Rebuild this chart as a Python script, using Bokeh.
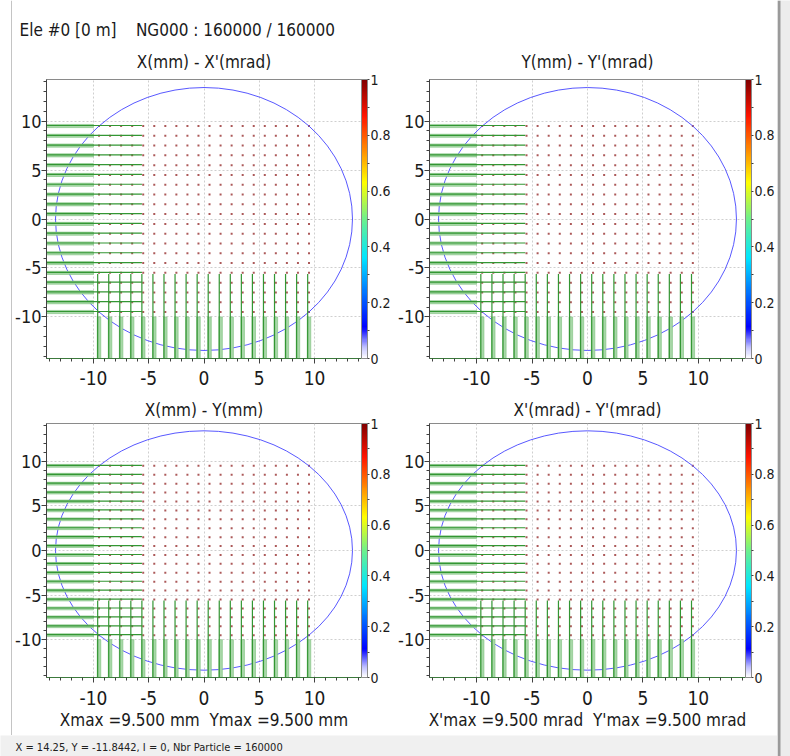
import numpy as np
from bokeh.plotting import figure
from bokeh.models import (ColorBar, LinearColorMapper, Title, NumeralTickFormatter,
                          FixedTicker, Range1d, ColumnDataSource, Label, Span)
from bokeh.layouts import column, row
from bokeh.embed import file_html
from bokeh.resources import INLINE
from bokeh.transform import dodge, linear_cmap

FONT = "DejaVu Sans Condensed, Liberation Sans, sans-serif"

# ---------------- data ----------------
grid_values = [-9.5, -8.5, -7.5, -6.5, -5.5, -4.5, -3.5, -2.5, -1.5, -0.5,
               0.5, 1.5, 2.5, 3.5, 4.5, 5.5, 6.5, 7.5, 8.5, 9.5]
profile_counts = [8000, 8000, 8000, 8000, 8000, 8000, 8000, 8000, 8000, 8000,
                  8000, 8000, 8000, 8000, 8000, 8000, 8000, 8000, 8000, 8000]
cell_density = 1.0
axis_half_range = 14.25
ellipse_center = [0.0, 0.0]
ellipse_half_axes = [13.435, 13.435]
axis_ticks = [-10, -5, 0, 5, 10]
colorbar_ticks = [0, 0.2, 0.4, 0.6, 0.8, 1.0]
colorbar_minor = [0.1, 0.3, 0.5, 0.7, 0.9]
panel_titles = ["X(mm) - X'(mrad)", "Y(mm) - Y'(mrad)", "X(mm) - Y(mm)", "X'(mrad) - Y'(mrad)"]
header_text = "Ele #0 [0 m]\u00a0\u00a0\u00a0\u00a0NG000 : 160000 / 160000"
footer_texts = ["Xmax =9.500 mm\u00a0\u00a0Ymax =9.500 mm", "X'max =9.500 mrad\u00a0\u00a0Y'max =9.500 mrad"]
status_text = "X = 14.25, Y = -11.8442, I = 0, Nbr Particle = 160000"

# fill / line profile scale (fraction of the full axis span at max count)
FILL_FRAC = 0.149
LINE_FRAC = 0.303

# ---------------- palette (jet with white at zero) ----------------
anchors = [(0.0, (255, 255, 255)), (0.04, (190, 190, 255)), (0.11, (0, 0, 255)),
           (0.36, (0, 230, 255)), (0.5, (110, 240, 140)), (0.63, (255, 255, 0)),
           (0.87, (255, 20, 0)), (1.0, (128, 0, 0))]
palette = []
for i in range(256):
    t = i / 255
    for (t0, c0), (t1, c1) in zip(anchors[:-1], anchors[1:]):
        if t0 <= t <= t1:
            f = (t - t0) / (t1 - t0)
            c = [int(round(a + (b - a) * f)) for a, b in zip(c0, c1)]
            palette.append("#%02x%02x%02x" % tuple(c))
            break

R = axis_half_range
span = 2 * R
FW = 316
TXT = "#1a1a1a"

gx, gy = np.meshgrid(grid_values, grid_values)
points = ColumnDataSource(dict(x=gx.ravel(), y=gy.ravel(),
                               d=np.full(gx.size, cell_density)))
cmax = max(profile_counts)
prof = ColumnDataSource(dict(
    v=grid_values,
    fill_end=[-R + FILL_FRAC * span * c / cmax for c in profile_counts],
    line_end=[-R + LINE_FRAC * span * c / cmax for c in profile_counts],
    edge=[-R] * len(grid_values),
    lo=[v - 0.16 for v in grid_values],
    hi=[v + 0.16 for v in grid_values],
))


def make_panel(title, frame_h, bl, br, bt, bb, title_standoff, xlab_standoff,
               header=None, footer=None):
    p = figure(width=bl + FW + br, height=bt + frame_h + bb,
               x_range=Range1d(-R, R), y_range=Range1d(-R, R),
               min_border_left=bl, min_border_right=br,
               min_border_top=bt, min_border_bottom=bb,
               output_backend="svg", toolbar_location=None, title=None)
    p.background_fill_color = "white"
    p.border_fill_color = "white"
    p.outline_line_color = "#8a8a8a"

    mapper = LinearColorMapper(palette=palette, low=0, high=1)
    # particles
    p.scatter("x", "y", source=points, marker="square", size=2.0,
              fill_color=linear_cmap("d", palette, 0, 1), line_color=None, fill_alpha=0.65)
    # ellipse
    p.ellipse(x=[ellipse_center[0]], y=[ellipse_center[1]],
              width=[2 * ellipse_half_axes[0]], height=[2 * ellipse_half_axes[1]],
              fill_color=None, line_color="#4646ff", line_width=1.0, line_alpha=0.9)
    # profiles: left (horizontal bars)
    p.quad(left="edge", right="fill_end", bottom="lo", top="hi", source=prof,
           fill_color="#a8d8a8", line_color="#7cc07c", line_width=0.6)
    p.segment(x0="edge", y0=dodge("v", 0.05, range=p.y_range), x1="line_end",
              y1=dodge("v", 0.05, range=p.y_range), source=prof,
              line_color="#339633", line_width=1.2)
    # profiles: bottom (vertical bars)
    p.quad(left="lo", right="hi", bottom="edge", top="fill_end", source=prof,
           fill_color="#a8d8a8", line_color="#7cc07c", line_width=0.6)
    p.segment(x0=dodge("v", -0.12, range=p.x_range), y0="edge",
              x1=dodge("v", -0.12, range=p.x_range), y1="line_end", source=prof,
              line_color="#339633", line_width=1.2)

    for ax in (p.xaxis[0], p.yaxis[0]):
        ax.ticker = FixedTicker(ticks=axis_ticks, minor_ticks=list(np.arange(-14, 15)))
        ax.formatter = NumeralTickFormatter(format="0")
        ax.axis_line_color = "#404040"
        ax.major_tick_line_color = "#404040"
        ax.minor_tick_line_color = "#404040"
        ax.major_tick_out = 5
        ax.major_tick_in = 0
        ax.minor_tick_out = 3
        ax.minor_tick_in = 0
        ax.major_label_text_font = FONT
        ax.major_label_text_color = TXT
    p.xaxis.major_label_text_font_size = "19px"
    p.yaxis.major_label_text_font_size = "18px"
    p.xaxis.axis_line_color = "#3c7a3c"
    p.xaxis.major_label_standoff = xlab_standoff
    p.yaxis.major_label_standoff = 0
    p.grid.grid_line_color = "#cfcfcf"
    p.grid.grid_line_dash = "2 2"
    p.grid.ticker = FixedTicker(ticks=axis_ticks)

    cb = ColorBar(color_mapper=mapper, width=6, padding=0, margin=2,
                  ticker=FixedTicker(ticks=colorbar_ticks, minor_ticks=colorbar_minor),
                  formatter=NumeralTickFormatter(format="0.[0]"),
                  major_label_text_font=FONT, major_label_text_font_size="14px",
                  major_label_text_color=TXT,
                  major_tick_line_color="#404040", major_tick_out=2, major_tick_in=0,
                  minor_tick_line_color="#404040", minor_tick_out=2, minor_tick_in=0,
                  bar_line_color="#8a8a8a", label_standoff=1,
                  border_line_color=None, background_fill_alpha=0)
    p.add_layout(cb, "right")

    p.add_layout(Title(text=title, align="center", text_font=FONT, text_font_size="17px",
                       text_font_style="normal", text_color=TXT, standoff=title_standoff), "above")
    if header is not None:
        p.add_layout(Title(text=header, align="left", offset=-27, text_font=FONT,
                           text_font_size="17px", text_font_style="normal",
                           text_color=TXT, standoff=4), "above")
    if footer is not None:
        p.xaxis.axis_label = footer
        p.xaxis.axis_label_standoff = 2
        p.xaxis.axis_label_text_font = FONT
        p.xaxis.axis_label_text_font_size = "17px"
        p.xaxis.axis_label_text_font_style = "normal"
        p.xaxis.axis_label_text_color = TXT
    return p


# left edge line (12) | TL (33+316+34) | TR (34+316+32) | strip (13)  -> 790
tl = make_panel(panel_titles[0], 279, 33, 34, 79, 35, 16, 7, header=header_text)
tr = make_panel(panel_titles[1], 279, 34, 32, 79, 35, 16, 7)
bl = make_panel(panel_titles[2], 256, 33, 34, 28, 58, 8, 8, footer=footer_texts[0])
br = make_panel(panel_titles[3], 256, 34, 32, 28, 58, 8, 8, footer=footer_texts[1])


def plain(w, h, bg):
    f = figure(width=w, height=h, x_range=Range1d(0, w), y_range=Range1d(0, h),
               x_axis_type=None, y_axis_type=None, min_border=0,
               output_backend="svg", toolbar_location=None, title=None)
    f.grid.visible = False
    f.background_fill_color = bg
    f.border_fill_color = bg
    f.outline_line_color = None
    return f


status = plain(777, 21, "#f0f0f0")
status.add_layout(Label(x=15, y=9, text=status_text, text_baseline="middle",
                        text_font=FONT, text_font_size="11px", text_color="#202020"))

leftedge = plain(12, 735, "white")
leftedge.add_layout(Span(location=11.5, dimension="height", line_color="#b0b0b0", line_width=1.5))

strip = plain(13, 756, "#ececec")
strip.add_layout(Span(location=1.5, dimension="height", line_color="#9a9a9a", line_width=3))

panels = column(row(tl, tr), row(bl, br))
layout = row(column(row(leftedge, panels), status), strip)
open("out.html", "w").write(file_html(layout, INLINE))
